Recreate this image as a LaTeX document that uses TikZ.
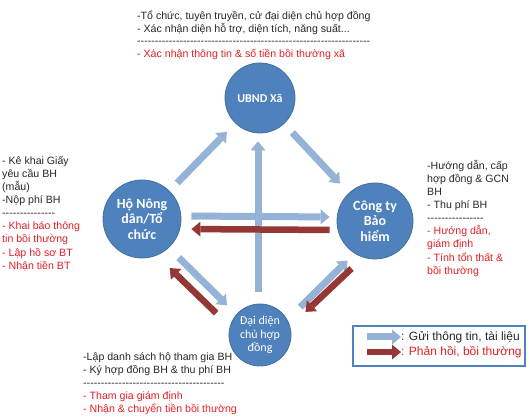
\documentclass[tikz,border=0pt]{standalone}
\usepackage{fontspec}
\setmainfont{Liberation Sans}
\newfontfamily\circfont{Carlito}
\usetikzlibrary{positioning, arrows.meta}

\definecolor{circblue}{HTML}{4F81BD}
\definecolor{circedge}{HTML}{41719C}
\definecolor{sendblue}{HTML}{95B3D7}
\definecolor{backred}{HTML}{953735}
\definecolor{notered}{HTML}{E31E24}
\definecolor{notegray}{HTML}{262626}

\newcommand{\dashrow}[1]{\makebox[#1][l]{\leaders\hbox{-}\hfill}}
\newcommand{\redline}[1]{\textcolor{notered}{#1}}

\begin{document}
\begin{tikzpicture}[
    x=1pt, y=1pt,
    node distance=4pt and 6pt,
    party/.style={
        circle,
        fill=circblue,
        draw=circedge,
        line width=0.8pt,
        text=white,
        align=center,
        inner sep=0pt
    },
    bigparty/.style={
        party,
        font=\circfont\fontsize{14}{15.5}\selectfont\bfseries
    },
    smallparty/.style={
        party,
        font=\circfont\fontsize{12}{13.5}\selectfont
    },
    note/.style={
        align=left,
        inner sep=0pt,
        anchor=north west,
        text=notegray,
        font=\fontsize{10.6}{13.1}\selectfont
    },
    send/.style={
        -{Triangle[length=9pt, width=15pt, line width=0pt]},
        line width=7pt,
        draw=sendblue
    },
    reply/.style={
        -{Triangle[length=9pt, width=15pt, line width=0pt]},
        line width=6.5pt,
        draw=backred
    },
    legbox/.style={
        draw=circblue,
        line width=1.2pt,
        minimum width=172pt,
        minimum height=40pt
    }
]

\useasboundingbox (0,0) rectangle (530,420);

% the four parties
\node[smallparty, font=\circfont\fontsize{12}{13.5}\selectfont\bfseries,
      minimum size=70pt] (ubnd) at (260,322) {UBND Xã};
\node[bigparty, minimum size=78pt] (ho) at (142,201) {Hộ Nông\\dân/Tổ\\chức};
\node[bigparty, minimum size=76pt] (cty) at (375,199) {Công ty\\Bảo\\hiểm};
\node[smallparty, minimum size=62pt] (dd) at (260,85) {Đại diện\\chủ hợp\\đồng};

% notes round them
\node[note, font=\fontsize{10.6}{12.5}\selectfont] (ubndnote) at (137,409)
    {-Tổ chức, tuyên truyền, cử đại diện chủ hợp đồng\\
    - Xác nhận diện hỗ trợ, diện tích, năng suất...\\
    \dashrow{233pt}\\
    \redline{- Xác nhận thông tin \& số tiền bồi thường xã}};
\node[note] (honote) at (2,264) {- Kê khai Giấy\\yêu cầu BH\\(mẫu)\\-Nộp phí BH\\
    \dashrow{54pt}\\
    \redline{- Khai báo thông}\\\redline{tin bồi thường}\\
    \redline{- Lập hồ sơ BT}\\\redline{- Nhận tiền BT}};
\node[note] (ctynote) at (427,260) {-Hướng dẫn, cấp\\hợp đồng \& GCN\\BH\\- Thu phí BH\\
    \dashrow{59pt}\\
    \redline{- Hướng dẫn,}\\\redline{giám định}\\
    \redline{- Tính tổn thất \&}\\\redline{bồi thường}};
\node[note] (ddnote) at (83,68) {-Lập danh sách hộ tham gia BH\\
    - Ký hợp đồng BH \& thu phí BH\\
    \dashrow{142pt}\\
    \redline{- Tham gia giám định}\\\redline{- Nhận \& chuyển tiền bồi thường}};

% flows
\draw[send, shorten <=12pt, shorten >=8pt] ([xshift=-2pt]dd.north) -- ([xshift=-2pt]ubnd.south);
\draw[send, shorten <=11pt, shorten >=12pt] (ho) -- (ubnd);
\draw[send, shorten <=12pt, shorten >=13pt] (ubnd) -- (cty);
\draw[send, shorten <=10pt, shorten >=7pt] ([yshift=3pt]ho.east) -- ([yshift=4pt]cty.west);
\draw[reply, shorten <=7pt, shorten >=10pt] ([yshift=-9pt]cty.west) -- ([yshift=-10pt]ho.east);
\draw[send, shorten <=14pt, shorten >=13pt] (ho.-47) -- (dd.139);
\draw[reply, shorten <=19pt, shorten >=18pt] (dd.164) -- (ho.-68);
\draw[send, shorten <=18pt, shorten >=10pt] (dd.29) -- (cty.-122);
\draw[reply, shorten <=16pt, shorten >=21pt] (cty.-108) -- (dd.16);

% legend
\node[legbox] (legend) at (439,74) {};
\node[note, font=\fontsize{12}{14}\selectfont, anchor=west] (legsend) at (401,83)
    {: Gửi thông tin, tài liệu};
\node[note, font=\fontsize{12}{14}\selectfont, text=notered,
      below=3pt of legsend.south west, anchor=north west] (legreply)
    {: Phản hồi, bồi thường};
\draw[send] ([xshift=-34pt]legsend.west) -- (legsend.west);
\draw[reply] ([xshift=-34pt]legreply.west) -- (legreply.west);

\end{tikzpicture}
\end{document}
